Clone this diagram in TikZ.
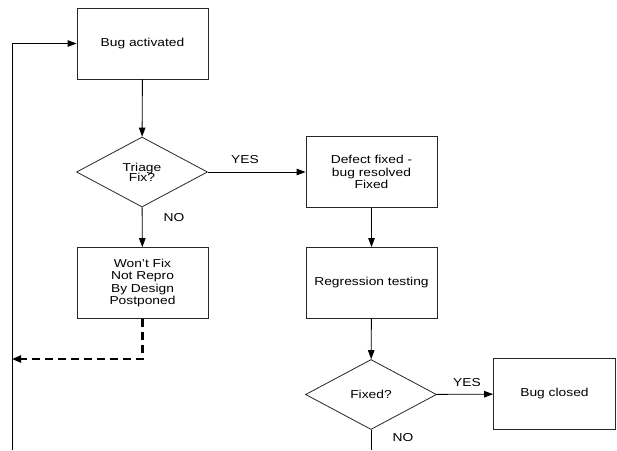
\documentclass[tikz,border=0pt]{standalone}
\usepackage{fontspec}
\setmainfont{Liberation Sans}[FakeStretch=1.2]
\usetikzlibrary{shapes.geometric,arrows.meta}
\begin{document}
\begin{tikzpicture}[x=1pt,y=-1pt,
  txt/.style={font=\fontsize{11.5}{12.3}\selectfont},
  box/.style={txt, draw=black!85, line width=0.8pt, minimum width=131pt, minimum height=71pt, inner sep=0pt, align=center},
  dec/.style={txt, draw=black!85, line width=0.8pt, diamond, minimum width=131pt, minimum height=70pt, inner sep=0pt, align=center},
  arr/.style={line width=0.9pt, -{Triangle[length=9pt,width=6.5pt]}},
  back/.style={line width=2.2pt, dash pattern=on 8pt off 5pt, -{Triangle[length=9pt,width=7pt]}},
  lbl/.style={txt, inner sep=0pt}]
\useasboundingbox (0,0) rectangle (617,450);
\node[box] (bug) at (142.5,43.5) {Bug activated};
\node[dec] (triage) at (142,172) {Triage\\[-2pt]Fix?};
\node[box] (defect) at (371.5,172) {Defect fixed -\\bug resolved\\Fixed};
\node[box] (wont) at (142.5,283) {Won't Fix\\Not Repro\\By Design\\Postponed};
\node[box] (reg) at (371.5,283) {Regression testing};
\node[dec] (fixed) at (371,394.5) {Fixed?};
\node[box, minimum width=122pt] (closed) at (554.5,394) {Bug closed};
\coordinate (loopbot) at (12,450);
\coordinate (loopin) at (12,359);
\coordinate (nobot) at (371,450);
\draw[arr] (bug) -- (triage);
\draw[arr] (triage) -- (defect);
\draw[arr] (triage) -- (wont);
\draw[arr] (defect) -- (reg);
\draw[arr] (reg) -- (fixed);
\draw[arr] (fixed) -- (closed);
\draw[line width=0.9pt] (fixed.south) -- (nobot);
\draw[arr] (loopbot) |- (bug.west);
\draw[back] (wont.south) |- (loopin);
\node[lbl] (yes1) at (245,160) {YES};
\node[lbl] (no1) at (174,218) {NO};
\node[lbl] (yes2) at (467,383) {YES};
\node[lbl] (no2) at (403,438) {NO};
\end{tikzpicture}
\end{document}
